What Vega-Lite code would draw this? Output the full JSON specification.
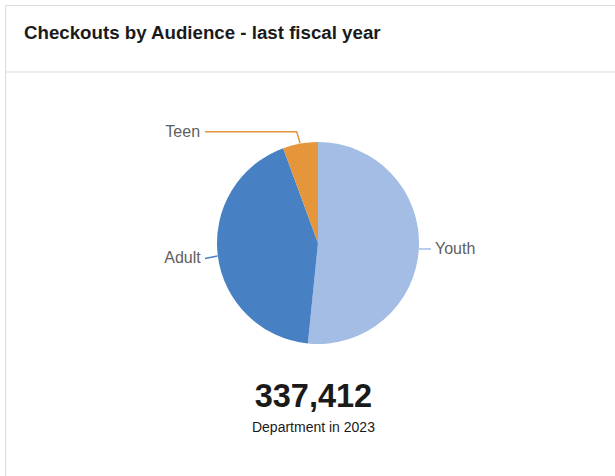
{
  "$schema": "https://vega.github.io/schema/vega-lite/v6.json",
  "width": 626,
  "height": 476,
  "padding": {"left": 5, "top": 5, "right": 0, "bottom": 0},
  "autosize": {"type": "none"},
  "background": "white",
  "config": {"view": {"stroke": "#dcdcdc", "strokeWidth": 1}, "font": "Liberation Sans"},
  "datasets": {
    "slices": [
      {"audience": "Youth", "checkouts": 174105, "rank": 1},
      {"audience": "Adult", "checkouts": 144412, "rank": 2},
      {"audience": "Teen", "checkouts": 18895, "rank": 3}
    ],
    "leaders": [
      {"audience": "Teen", "seq": 1, "x": -0.178, "y": 0.99},
      {"audience": "Teen", "seq": 2, "x": -0.211, "y": 1.102},
      {"audience": "Teen", "seq": 3, "x": -1.119, "y": 1.102},
      {"audience": "Adult", "seq": 1, "x": -0.995, "y": -0.129},
      {"audience": "Adult", "seq": 2, "x": -1.119, "y": -0.153},
      {"audience": "Youth", "seq": 1, "x": 1.0, "y": -0.059},
      {"audience": "Youth", "seq": 2, "x": 1.119, "y": -0.059}
    ],
    "labels": [
      {"audience": "Teen", "side": "left", "x": -1.168, "y": 1.102},
      {"audience": "Adult", "side": "left", "x": -1.161, "y": -0.153},
      {"audience": "Youth", "side": "right", "x": 1.158, "y": -0.059}
    ],
    "texts": [
      {"role": "title", "text": "Checkouts by Audience - last fiscal year", "x": -2.911, "y": 2.076},
      {"role": "total", "text": "337,412", "x": -0.045, "y": -1.525},
      {"role": "caption", "text": "Department in 2023", "x": -0.045, "y": -1.827}
    ]
  },
  "layer": [
    {
      "data": {"values": [{"level": 1.693}]},
      "mark": {"type": "rule", "color": "#dcdcdc", "strokeWidth": 1},
      "encoding": {
        "y": {"field": "level", "type": "quantitative", "scale": {"domain": [-2.356, 2.356], "nice": false, "zero": false}, "axis": null}
      }
    },
    {
      "data": {"name": "slices"},
      "mark": {"type": "arc", "outerRadius": 101},
      "encoding": {
        "theta": {"field": "checkouts", "type": "quantitative", "stack": true},
        "order": {"field": "rank", "type": "quantitative"},
        "color": {"field": "audience", "type": "nominal", "scale": {"domain": ["Youth", "Adult", "Teen"], "range": ["#a3bde5", "#4781c3", "#e5963b"]}, "legend": null}
      }
    },
    {
      "data": {"name": "leaders"},
      "mark": {"type": "line", "strokeWidth": 1.5},
      "encoding": {
        "x": {"field": "x", "type": "quantitative", "scale": {"domain": [-3.099, 3.099], "nice": false, "zero": false}, "axis": null},
        "y": {"field": "y", "type": "quantitative", "scale": {"domain": [-2.356, 2.356], "nice": false, "zero": false}, "axis": null},
        "detail": {"field": "audience"},
        "order": {"field": "seq", "type": "quantitative"},
        "color": {"field": "audience", "type": "nominal", "legend": null}
      }
    },
    {
      "data": {"name": "labels"},
      "transform": [{"filter": "datum.side === 'left'"}],
      "mark": {"type": "text", "align": "right", "baseline": "middle", "fontSize": 16, "color": "#606060"},
      "encoding": {
        "x": {"field": "x", "type": "quantitative"},
        "y": {"field": "y", "type": "quantitative"},
        "text": {"field": "audience"}
      }
    },
    {
      "data": {"name": "labels"},
      "transform": [{"filter": "datum.side === 'right'"}],
      "mark": {"type": "text", "align": "left", "baseline": "middle", "fontSize": 16, "color": "#606060"},
      "encoding": {
        "x": {"field": "x", "type": "quantitative"},
        "y": {"field": "y", "type": "quantitative"},
        "text": {"field": "audience"}
      }
    },
    {
      "data": {"name": "texts"},
      "transform": [{"filter": "datum.role === 'title'"}],
      "mark": {"type": "text", "align": "left", "baseline": "middle", "fontSize": 18.7, "fontWeight": "bold", "color": "#1a1a1a"},
      "encoding": {
        "x": {"field": "x", "type": "quantitative"},
        "y": {"field": "y", "type": "quantitative"},
        "text": {"field": "text"}
      }
    },
    {
      "data": {"name": "texts"},
      "transform": [{"filter": "datum.role === 'total'"}],
      "mark": {"type": "text", "align": "center", "baseline": "middle", "fontSize": 32.5, "fontWeight": "bold", "color": "#1a1a1a"},
      "encoding": {
        "x": {"field": "x", "type": "quantitative"},
        "y": {"field": "y", "type": "quantitative"},
        "text": {"field": "text"}
      }
    },
    {
      "data": {"name": "texts"},
      "transform": [{"filter": "datum.role === 'caption'"}],
      "mark": {"type": "text", "align": "center", "baseline": "middle", "fontSize": 14, "color": "#1a1a1a"},
      "encoding": {
        "x": {"field": "x", "type": "quantitative"},
        "y": {"field": "y", "type": "quantitative"},
        "text": {"field": "text"}
      }
    }
  ]
}
